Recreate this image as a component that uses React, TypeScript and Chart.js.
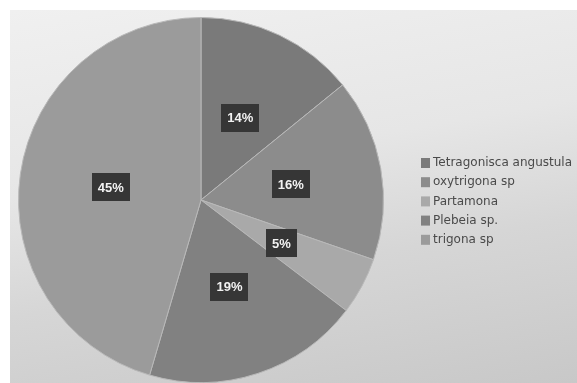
import React, { useEffect, useRef } from "react";
import { Chart, registerables } from "chart.js";

Chart.register(...registerables);

const categories = ["Tetragonisca angustula", "oxytrigona sp", "Partamona", "Plebeia sp.", "trigona sp"];
const values = [14, 16, 5, 19, 45];
const percentLabels = ["14%", "16%", "5%", "19%", "45%"];
const sliceColors = ["#7a7a7a", "#8c8c8c", "#a9a9a9", "#818181", "#9b9b9b"];

const labelPlugin = {
  id: "boxLabels",
  afterDatasetsDraw(chart: any) {
    const ctx = chart.ctx;
    const meta = chart.getDatasetMeta(0);
    ctx.save();
    ctx.font = "bold 13px 'Liberation Sans', sans-serif";
    ctx.textAlign = "center";
    ctx.textBaseline = "middle";
    meta.data.forEach((arc: any, i: number) => {
      const p = arc.tooltipPosition();
      const text = percentLabels[i];
      const w = ctx.measureText(text).width + 12;
      const h = 28;
      ctx.fillStyle = "#363636";
      ctx.fillRect(Math.round(p.x - w / 2), Math.round(p.y - h / 2), Math.round(w), h);
      ctx.fillStyle = "#f2f2f2";
      ctx.fillText(text, p.x, p.y + 1);
    });
    ctx.restore();
  },
};

const legendPlugin = {
  id: "customLegend",
  afterDraw(chart: any) {
    const ctx = chart.ctx;
    ctx.save();
    ctx.font = "12px 'DejaVu Sans', sans-serif";
    ctx.textBaseline = "middle";
    ctx.textAlign = "left";
    const x0 = 421;
    const y0 = 163;
    const step = 19.2;
    categories.forEach((c, i) => {
      const y = y0 + i * step;
      ctx.fillStyle = sliceColors[i];
      ctx.fillRect(x0, y - 5, 9, 10);
      ctx.fillStyle = "#4a4a4a";
      ctx.fillText(c, x0 + 12, y);
    });
    ctx.restore();
  },
};

export default function App() {
  const ref = useRef<HTMLCanvasElement>(null);
  useEffect(() => {
    if (!ref.current) return;
    const chart = new Chart(ref.current, {
      type: "pie",
      data: {
        labels: categories,
        datasets: [
          {
            data: values,
            backgroundColor: sliceColors,
            borderColor: "#b8b8b8",
            borderWidth: 1,
          },
        ],
      },
      options: {
        animation: false,
        responsive: false,
        maintainAspectRatio: false,
        layout: { padding: { left: 18, right: 193, top: 17, bottom: 0 } },
        plugins: { legend: { display: false }, tooltip: { enabled: false } },
      },
      plugins: [labelPlugin, legendPlugin],
    });
    return () => chart.destroy();
  }, []);
  return (
    <div style={{ position: "fixed", left: 0, top: 0, width: 577, height: 383, background: "#ffffff", overflow: "hidden" }}>
      <div
        style={{
          position: "absolute",
          left: 10,
          top: 10,
          width: 567,
          height: 373,
          background: "linear-gradient(170deg, #f0f0f0 0%, #e6e6e6 40%, #d6d6d6 65%, #c8c8c8 100%)",
        }}
      />
      <canvas ref={ref} width={577} height={383} style={{ position: "absolute", left: 0, top: 0 }} />
    </div>
  );
}
